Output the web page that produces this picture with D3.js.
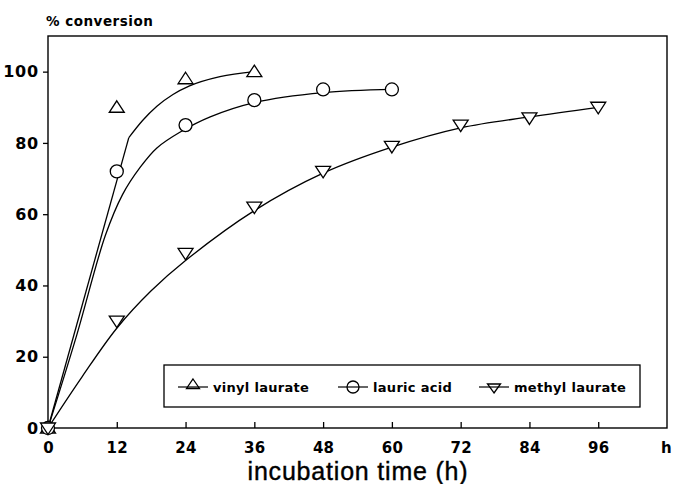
<!DOCTYPE html>
<html><head><meta charset="utf-8">
<script src="https://cdn.jsdelivr.net/npm/d3@7"></script>
<style>body{margin:0;background:#fff}svg{display:block}</style>
</head><body><svg id="c" width="673" height="484"></svg>
<script>
const seriesNames = ["vinyl laurate", "lauric acid", "methyl laurate"];
const xTicks = [0, 12, 24, 36, 48, 60, 72, 84, 96];
const yTicks = [0, 20, 40, 60, 80, 100];
// measured points
const vinylX = [0, 12, 24, 36];
const vinylY = [0, 90, 98, 100];
const lauricX = [0, 12, 24, 36, 48, 60];
const lauricY = [0, 72, 85, 92, 95, 95];
const methylX = [0, 12, 24, 36, 48, 60, 72, 84, 96];
const methylY = [0, 30, 49, 62, 72, 79, 85, 87, 90];
// fitted curves
const vinylFitX = [0, 14.1, 16.5, 19, 21.8, 24.7, 30, 36];
const vinylFitY = [0, 81.5, 86.3, 90.3, 93.6, 96.0, 98.6, 100];
const lauricFitX = [0, 5, 10, 13, 16.1, 19, 23, 28.3, 36, 48, 60];
const lauricFitY = [0, 26, 54, 65.5, 73.2, 78.6, 83, 87.3, 91.3, 94.1, 95];
const methylFitX = [0, 6, 12, 18, 24, 36, 48, 60, 72, 84, 96];
const methylFitY = [0, 14.5, 28, 38.5, 47, 61, 71.5, 78.8, 84.2, 87.3, 90];

const svg = d3.select("#c");
const L = 48, R = 667, T = 36, B = 428;
const x = d3.scaleLinear().domain([0, 108]).range([L, R]);
const y = d3.scaleLinear().domain([0, 110]).range([B, T]);
const bold = "'DejaVu Sans', sans-serif";
const font = "'Liberation Sans', Arial, sans-serif";

// frame
svg.append("rect").attr("x", L).attr("y", T).attr("width", R - L).attr("height", B - T)
  .attr("fill", "none").attr("stroke", "#000").attr("stroke-width", 1.4);

// x axis
const xa = svg.append("g").attr("transform", `translate(0,${B})`)
  .call(d3.axisBottom(x).tickValues(xTicks).tickSizeInner(-6).tickSizeOuter(0).tickPadding(14));
xa.select(".domain").remove();
xa.selectAll("line").attr("stroke-width", 1.3);
xa.selectAll("text").attr("font-family", bold).attr("font-weight", "bold").attr("font-size", 15)
  .attr("letter-spacing", 0.3).attr("fill", "#000");

// y axis
const ya = svg.append("g").attr("transform", `translate(${L},0)`)
  .call(d3.axisLeft(y).tickValues(yTicks).tickSizeInner(5).tickSizeOuter(0).tickPadding(4));
ya.select(".domain").remove();
ya.selectAll("line").attr("stroke-width", 1.3);
ya.selectAll("text").attr("font-family", bold).attr("font-weight", "bold").attr("font-size", 16)
  .attr("letter-spacing", 0.8).attr("fill", "#000");

svg.append("text").attr("x", 661).attr("y", 453)
  .attr("font-family", bold).attr("font-weight", "bold").attr("font-size", 15).text("h");
svg.append("text").attr("x", 46).attr("y", 26)
  .attr("font-family", bold).attr("font-weight", "bold").attr("font-size", 13.5).attr("letter-spacing", 0.5).text("% conversion");
svg.append("text").attr("x", 358).attr("y", 480).attr("text-anchor", "middle")
  .attr("font-family", font).attr("font-size", 25).attr("letter-spacing", 0.8)
  .attr("stroke", "#000").attr("stroke-width", 0.4).text("incubation time (h)");

// curves
const smooth = d3.line().x(d => x(d[0])).y(d => y(d[1])).curve(d3.curveCatmullRom.alpha(0.5));
const mono = d3.line().x(d => x(d[0])).y(d => y(d[1])).curve(d3.curveMonotoneX);
const lin = d3.line().x(d => x(d[0])).y(d => y(d[1]));
const toPts = (fx, fy) => fx.map((v, i) => [v, fy[i]]);
const vPts = toPts(vinylFitX, vinylFitY);
// vinyl: straight initial segment then smooth
svg.append("path").datum(vPts.slice(0, 2)).attr("d", lin)
  .attr("fill", "none").attr("stroke", "#000").attr("stroke-width", 1.3);
svg.append("path").datum(vPts.slice(1)).attr("d", mono)
  .attr("fill", "none").attr("stroke", "#000").attr("stroke-width", 1.3);
[[lauricFitX, lauricFitY], [methylFitX, methylFitY]].forEach(([fx, fy]) => {
  svg.append("path").datum(toPts(fx, fy)).attr("d", smooth)
    .attr("fill", "none").attr("stroke", "#000").attr("stroke-width", 1.3);
});

// symbols
function sym(g, type, cx, cy) {
  if (type === 0) {
    g.append("path").attr("d", `M${cx},${cy - 6.5}L${cx + 7.5},${cy + 5}L${cx - 7.5},${cy + 5}Z`)
      .attr("fill", "#fff").attr("stroke", "#000").attr("stroke-width", 1.3);
  } else if (type === 1) {
    g.append("circle").attr("cx", cx).attr("cy", cy).attr("r", 6.5)
      .attr("fill", "#fff").attr("stroke", "#000").attr("stroke-width", 1.3);
  } else {
    g.append("path").attr("d", `M${cx},${cy + 6.5}L${cx + 7.5},${cy - 5}L${cx - 7.5},${cy - 5}Z`)
      .attr("fill", "#fff").attr("stroke", "#000").attr("stroke-width", 1.3);
  }
}
const pts = [[vinylX, vinylY], [lauricX, lauricY], [methylX, methylY]];
const pg = svg.append("g");
pts.forEach(([px, py], s) => px.forEach((v, i) => sym(pg, s, x(v), y(py[i]))));

// legend
const lg = svg.append("g");
lg.append("rect").attr("x", 164).attr("y", 365).attr("width", 476).attr("height", 42)
  .attr("fill", "#fff").attr("stroke", "#000").attr("stroke-width", 1.3);
const legX = [193, 353, 494];
legX.forEach((cx, s) => {
  const cy = 387;
  lg.append("line").attr("x1", cx - 15).attr("x2", cx + 15).attr("y1", cy).attr("y2", cy)
    .attr("stroke", "#000").attr("stroke-width", 1.2);
  if (s === 0) lg.append("path").attr("d", `M${cx},${cy - 8}L${cx + 6.5},${cy + 1.5}L${cx - 6.5},${cy + 1.5}Z`).attr("fill", "none").attr("stroke", "#000").attr("stroke-width", 1.3);
  else if (s === 1) lg.append("circle").attr("cx", cx).attr("cy", cy).attr("r", 6).attr("fill", "none").attr("stroke", "#000").attr("stroke-width", 1.3);
  else lg.append("path").attr("d", `M${cx},${cy + 6}L${cx + 6.5},${cy - 3}L${cx - 6.5},${cy - 3}Z`).attr("fill", "none").attr("stroke", "#000").attr("stroke-width", 1.3);
  lg.append("text").attr("x", cx + 20).attr("y", 392)
    .attr("font-family", bold).attr("font-weight", "bold").attr("font-size", 13).attr("letter-spacing", 0.3)
    .text(seriesNames[s]);
});
</script></body></html>
